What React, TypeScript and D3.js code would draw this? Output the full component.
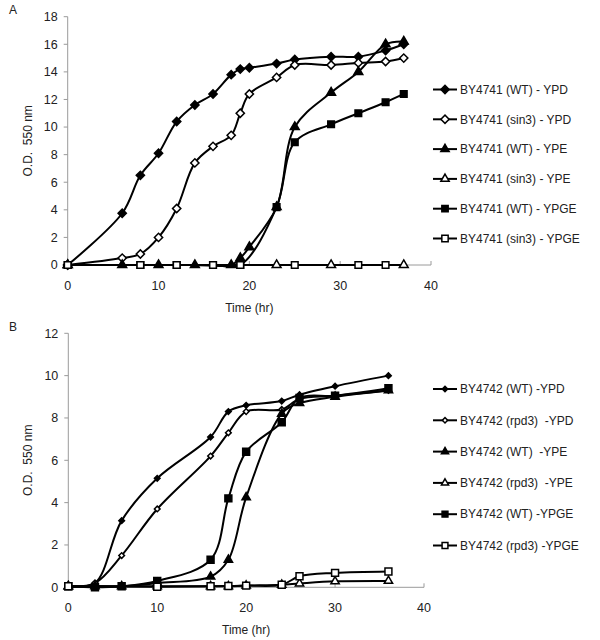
import React from "react";
import * as d3 from "d3";

// ---------- Panel A data ----------
const xA_wtYPD = [0, 6, 8, 10, 12, 14, 16, 18, 19, 20, 23, 25, 29, 32, 35, 37];
const yA_wtYPD = [0, 3.75, 6.5, 8.1, 10.4, 11.6, 12.4, 13.8, 14.2, 14.3, 14.6, 14.9, 15.1, 15.1, 15.55, 16.0];
const xA_sin3YPD = [0, 6, 8, 10, 12, 14, 16, 18, 19, 20, 23, 25, 29, 32, 35, 37];
const yA_sin3YPD = [0, 0.5, 0.8, 2.0, 4.1, 7.4, 8.6, 9.4, 11.0, 12.4, 13.6, 14.5, 14.5, 14.65, 14.75, 15.0];
const xA_wtYPE = [0, 6, 10, 14, 18, 19, 20, 23, 25, 29, 32, 35, 37];
const yA_wtYPE = [0, 0, 0, 0, 0, 0.5, 1.3, 4.2, 10.0, 12.5, 14.0, 16.0, 16.2];
const xA_sin3YPE = [0, 23, 29, 37];
const yA_sin3YPE = [0, 0, 0, 0];
const xA_wtYPGE = [0, 8, 12, 16, 19, 23, 25, 29, 32, 35, 37];
const yA_wtYPGE = [0, 0, 0, 0, 0, 4.2, 8.9, 10.2, 11.0, 11.8, 12.4];
const xA_sin3YPGE = [0, 8, 12, 16, 19, 25, 32, 35];
const yA_sin3YPGE = [0, 0, 0, 0, 0, 0, 0, 0];
const labelsA = [
  "BY4741 (WT) - YPD",
  "BY4741 (sin3) - YPD",
  "BY4741 (WT) - YPE",
  "BY4741 (sin3) - YPE",
  "BY4741 (WT) - YPGE",
  "BY4741 (sin3) - YPGE",
];
const yTicksA = [0, 2, 4, 6, 8, 10, 12, 14, 16, 18];

// ---------- Panel B data ----------
const xB_wtYPD = [0, 3, 6, 10, 16, 18, 20, 24, 26, 30, 36];
const yB_wtYPD = [0.05, 0.2, 3.15, 5.15, 7.1, 8.3, 8.6, 8.8, 9.1, 9.5, 10.0];
const xB_rpd3YPD = [0, 3, 6, 10, 16, 18, 20, 24, 26, 30, 36];
const yB_rpd3YPD = [0.05, 0.2, 1.5, 3.7, 6.2, 7.3, 8.3, 8.4, 8.9, 9.05, 9.3];
const xB_wtYPE = [0, 3, 6, 10, 16, 18, 20, 24, 26, 30, 36];
const yB_wtYPE = [0.05, 0.05, 0.05, 0.2, 0.5, 1.3, 4.25, 8.2, 8.7, 9.0, 9.3];
const xB_rpd3YPE = [0, 10, 16, 18, 20, 24, 26, 30, 36];
const yB_rpd3YPE = [0.05, 0.05, 0.05, 0.05, 0.08, 0.12, 0.18, 0.28, 0.3];
const xB_wtYPGE = [0, 3, 6, 10, 16, 18, 20, 24, 26, 30, 36];
const yB_wtYPGE = [0.05, 0.0, 0.05, 0.3, 1.3, 4.2, 6.4, 7.8, 8.95, 9.05, 9.4];
const xB_rpd3YPGE = [0, 10, 16, 18, 20, 24, 26, 30, 36];
const yB_rpd3YPGE = [0.05, 0.03, 0.05, 0.06, 0.08, 0.12, 0.52, 0.68, 0.75];
const labelsB = [
  "BY4742 (WT) -YPD",
  "BY4742 (rpd3)  -YPD",
  "BY4742 (WT)  -YPE",
  "BY4742 (rpd3)  -YPE",
  "BY4742 (WT) -YPGE",
  "BY4742 (rpd3) -YPGE",
];
const yTicksB = [0, 2, 4, 6, 8, 10, 12];
const xTicks = [0, 10, 20, 30, 40];

type Shape = "diamond" | "triangle" | "square";
interface Series {
  xs: number[];
  ys: number[];
  shape: Shape;
  filled: boolean;
  label: string;
}

const FONT = "'Liberation Sans', Arial, sans-serif";
const AXIS = "#9a9a9a";

function markerPath(shape: Shape, size: number): string {
  if (shape === "triangle") return d3.symbol().type(d3.symbolTriangle).size(size)() as string;
  return d3.symbol().type(d3.symbolSquare).size(size)() as string;
}

function Marker({ shape, filled, x, y, sizes }: { shape: Shape; filled: boolean; x: number; y: number; sizes: Record<Shape, number> }) {
  const rot = shape === "diamond" ? 45 : 0;
  return (
    <path
      d={markerPath(shape, sizes[shape])}
      transform={`translate(${x},${y}) rotate(${rot})`}
      fill={filled ? "#000" : "#fff"}
      stroke="#000"
      strokeWidth={1.5}
    />
  );
}

interface PanelProps {
  series: Series[];
  x0: number; x1: number; yTop: number; yBottom: number;
  yMax: number; yTicks: number[];
  letter: string; letterY: number;
  legendY0: number; legendStep: number;
  sizes: Record<Shape, number>;
  legendSizes: Record<Shape, number>;
}

function Panel(p: PanelProps) {
  const x = d3.scaleLinear().domain([0, 40]).range([p.x0, p.x1]);
  const y = d3.scaleLinear().domain([0, p.yMax]).range([p.yBottom, p.yTop]);
  const line = d3
    .line<[number, number]>()
    .x((d) => x(d[0]))
    .y((d) => y(d[1]))
    .curve(d3.curveCatmullRom.alpha(0.5));
  return (
    <g fontFamily={FONT}>
      <text x={9} y={p.letterY} fontSize={12} fill="#222">{p.letter}</text>
      {/* axes */}
      <line x1={p.x0} x2={p.x0} y1={p.yTop} y2={p.yBottom} stroke={AXIS} strokeWidth={1} />
      <line x1={p.x0} x2={p.x1} y1={p.yBottom} y2={p.yBottom} stroke={AXIS} strokeWidth={1} />
      {p.yTicks.map((t) => (
        <g key={"y" + t}>
          <line x1={p.x0 - 4} x2={p.x0} y1={y(t)} y2={y(t)} stroke={AXIS} />
          <text x={p.x0 - 10} y={y(t)} dy="0.35em" textAnchor="end" fontSize={12.5} fill="#222">{t}</text>
        </g>
      ))}
      {xTicks.map((t) => (
        <g key={"x" + t}>
          <line x1={x(t)} x2={x(t)} y1={p.yBottom} y2={p.yBottom - 4} stroke={AXIS} />
          <text x={x(t)} y={p.yBottom + 25} textAnchor="middle" fontSize={12.5} fill="#222">{t}</text>
        </g>
      ))}
      <text x={(p.x0 + p.x1) / 2 + 0} y={p.yBottom + 47} textAnchor="middle" fontSize={12} fill="#222">Time (hr)</text>
      <text
        transform={`translate(${p.x0 - 36},${(p.yTop + p.yBottom) / 2}) rotate(-90)`}
        textAnchor="middle"
        fontSize={12}
        fill="#222"
        style={{ whiteSpace: "pre" }}
      >
        {"O.D.  550 nm"}
      </text>
      {/* lines */}
      {p.series.map((s, i) => (
        <path key={"l" + i} d={line(s.xs.map((v, j) => [v, s.ys[j]] as [number, number])) as string} fill="none" stroke="#000" strokeWidth={2} />
      ))}
      {/* markers */}
      {p.series.map((s, i) => (
        <g key={"m" + i}>
          {s.xs.map((v, j) => (
            <Marker key={j} shape={s.shape} filled={s.filled} x={x(v)} y={y(s.ys[j])} sizes={p.sizes} />
          ))}
        </g>
      ))}
      {/* legend */}
      {p.series.map((s, i) => {
        const ly = p.legendY0 + i * p.legendStep;
        return (
          <g key={"lg" + i}>
            <line x1={433} x2={457} y1={ly} y2={ly} stroke="#000" strokeWidth={2} />
            <Marker shape={s.shape} filled={s.filled} x={445} y={ly} sizes={p.legendSizes} />
            <text x={460} y={ly} dy="0.35em" fontSize={12} fill="#222" style={{ whiteSpace: "pre" }}>{s.label}</text>
          </g>
        );
      })}
    </g>
  );
}

export default function App() {
  const seriesA: Series[] = [
    { xs: xA_wtYPD, ys: yA_wtYPD, shape: "diamond", filled: true, label: labelsA[0] },
    { xs: xA_sin3YPD, ys: yA_sin3YPD, shape: "diamond", filled: false, label: labelsA[1] },
    { xs: xA_wtYPE, ys: yA_wtYPE, shape: "triangle", filled: true, label: labelsA[2] },
    { xs: xA_sin3YPE, ys: yA_sin3YPE, shape: "triangle", filled: false, label: labelsA[3] },
    { xs: xA_wtYPGE, ys: yA_wtYPGE, shape: "square", filled: true, label: labelsA[4] },
    { xs: xA_sin3YPGE, ys: yA_sin3YPGE, shape: "square", filled: false, label: labelsA[5] },
  ];
  const seriesB: Series[] = [
    { xs: xB_wtYPD, ys: yB_wtYPD, shape: "diamond", filled: true, label: labelsB[0] },
    { xs: xB_rpd3YPD, ys: yB_rpd3YPD, shape: "diamond", filled: false, label: labelsB[1] },
    { xs: xB_wtYPE, ys: yB_wtYPE, shape: "triangle", filled: true, label: labelsB[2] },
    { xs: xB_rpd3YPE, ys: yB_rpd3YPE, shape: "triangle", filled: false, label: labelsB[3] },
    { xs: xB_wtYPGE, ys: yB_wtYPGE, shape: "square", filled: true, label: labelsB[4] },
    { xs: xB_rpd3YPGE, ys: yB_rpd3YPGE, shape: "square", filled: false, label: labelsB[5] },
  ];
  return (
    <svg width={600} height={640} style={{ position: "absolute", left: 0, top: 0, background: "#fff" }}>
      <rect width={600} height={640} fill="#fff" />
      <Panel
        series={seriesA}
        x0={67.7} x1={431} yTop={16.7} yBottom={265}
        yMax={18} yTicks={yTicksA}
        letter="A" letterY={14}
        legendY0={89.5} legendStep={29.8}
        sizes={{ diamond: 34, triangle: 34, square: 44 }}
        legendSizes={{ diamond: 34, triangle: 30, square: 40 }}
      />
      <Panel
        series={seriesB}
        x0={68.3} x1={424} yTop={333.3} yBottom={587.3}
        yMax={12} yTicks={yTicksB}
        letter="B" letterY={331}
        legendY0={389} legendStep={31.3}
        sizes={{ diamond: 16, triangle: 30, square: 48 }}
        legendSizes={{ diamond: 14, triangle: 22, square: 34 }}
      />
    </svg>
  );
}
